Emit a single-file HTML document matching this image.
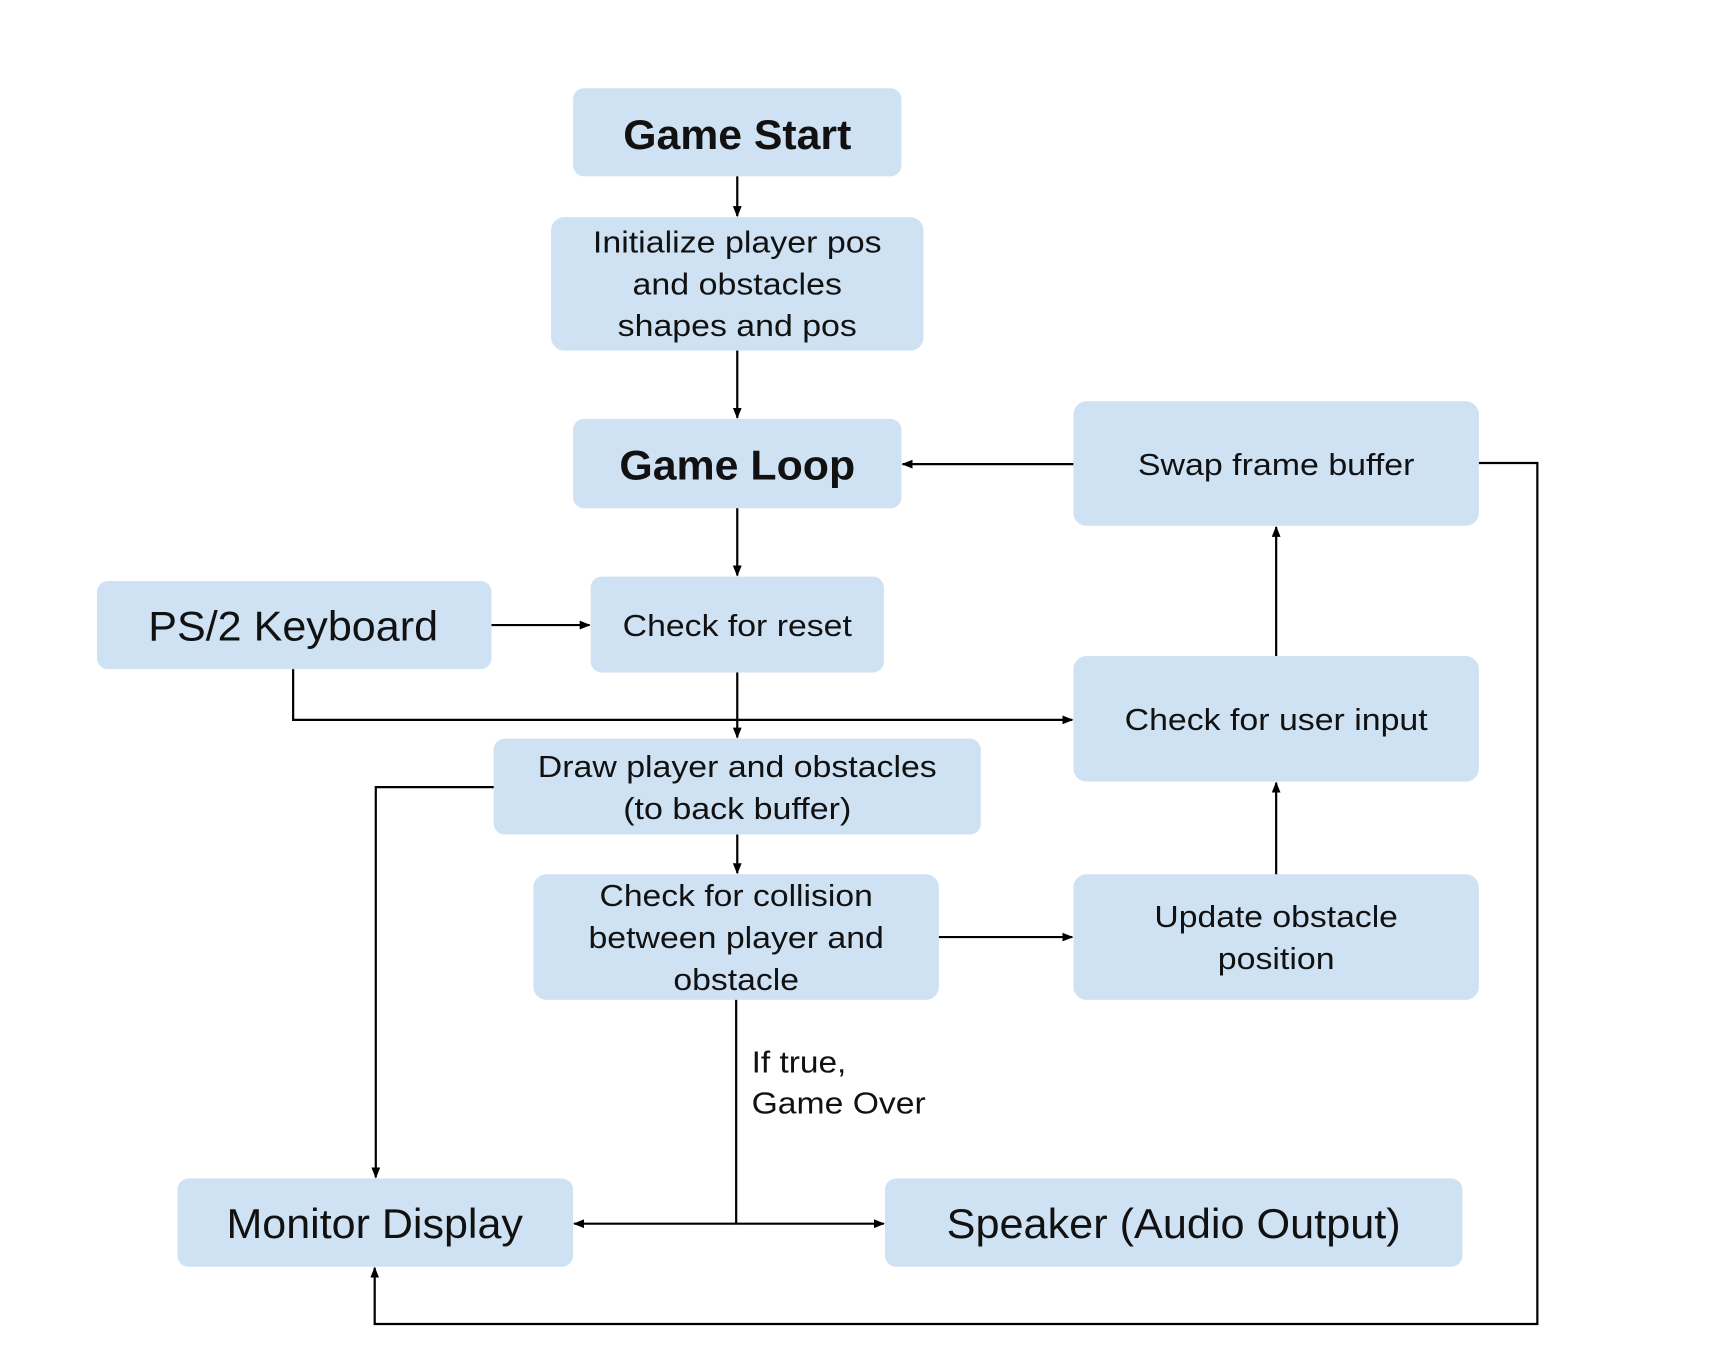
<!DOCTYPE html>
<html><head><meta charset="utf-8"><style>
html,body{margin:0;padding:0;background:#fff;width:1728px;height:1356px;overflow:hidden}
svg{display:block}
text{font-family:"Liberation Sans",Arial,sans-serif;fill:#111}
</style></head><body>
<svg width="1728" height="1356" viewBox="0 0 1568 1230" preserveAspectRatio="none" xmlns="http://www.w3.org/2000/svg">
<defs><marker id="a" markerWidth="10" markerHeight="8" refX="9" refY="4" orient="auto" markerUnits="userSpaceOnUse"><path d="M0,0 L10,4 L0,8 z" fill="#000"/></marker></defs>
<g fill="#cfe2f3">
<rect x="520" y="80" width="298" height="80" rx="10"/>
<rect x="500" y="197" width="338" height="121" rx="12"/>
<rect x="520" y="380" width="298" height="81" rx="10"/>
<rect x="974" y="364" width="368" height="113" rx="12"/>
<rect x="88" y="527" width="358" height="80" rx="10"/>
<rect x="536" y="523" width="266" height="87" rx="10"/>
<rect x="974" y="595" width="368" height="114" rx="12"/>
<rect x="448" y="670" width="442" height="87" rx="10"/>
<rect x="484" y="793" width="368" height="114" rx="12"/>
<rect x="974" y="793" width="368" height="114" rx="12"/>
<rect x="161" y="1069" width="359" height="80" rx="10"/>
<rect x="803" y="1069" width="524" height="80" rx="10"/>
</g>
<g stroke="#000" stroke-width="2" fill="none">
<path d="M669,160 V196" marker-end="url(#a)"/>
<path d="M669,318 V379" marker-end="url(#a)"/>
<path d="M974,421 H819" marker-end="url(#a)"/>
<path d="M669,461 V522" marker-end="url(#a)"/>
<path d="M446,567 H535" marker-end="url(#a)"/>
<path d="M669,610 V669" marker-end="url(#a)"/>
<path d="M266,607 V653 H973" marker-end="url(#a)"/>
<path d="M1158,595 V478" marker-end="url(#a)"/>
<path d="M1158,793 V710" marker-end="url(#a)"/>
<path d="M852,850 H973" marker-end="url(#a)"/>
<path d="M669,757 V792" marker-end="url(#a)"/>
<path d="M448,714 H341 V1068" marker-end="url(#a)"/>
<path d="M668,907 V1110"/>
<path d="M668,1110 H521" marker-end="url(#a)"/>
<path d="M668,1110 H802" marker-end="url(#a)"/>
<path d="M1342,420 H1395 V1201 H340 V1150" marker-end="url(#a)"/>
</g>
<g text-anchor="middle" lengthAdjust="spacingAndGlyphs">
<text x="669" y="135" font-size="38" font-weight="bold" textLength="207" lengthAdjust="spacingAndGlyphs">Game Start</text>
<text x="669" y="229" font-size="28" textLength="262" lengthAdjust="spacingAndGlyphs">Initialize player pos</text>
<text x="669" y="267" font-size="28" textLength="190" lengthAdjust="spacingAndGlyphs">and obstacles</text>
<text x="669" y="305" font-size="28" textLength="217" lengthAdjust="spacingAndGlyphs">shapes and pos</text>
<text x="669" y="435" font-size="38" font-weight="bold" textLength="214" lengthAdjust="spacingAndGlyphs">Game Loop</text>
<text x="1158" y="431" font-size="28" textLength="251" lengthAdjust="spacingAndGlyphs">Swap frame buffer</text>
<text x="266" y="581" font-size="38" textLength="263" lengthAdjust="spacingAndGlyphs">PS/2 Keyboard</text>
<text x="669" y="577" font-size="28" textLength="208" lengthAdjust="spacingAndGlyphs">Check for reset</text>
<text x="1158" y="662" font-size="28" textLength="275" lengthAdjust="spacingAndGlyphs">Check for user input</text>
<text x="669" y="705" font-size="28" textLength="362" lengthAdjust="spacingAndGlyphs">Draw player and obstacles</text>
<text x="669" y="743" font-size="28" textLength="207" lengthAdjust="spacingAndGlyphs">(to back buffer)</text>
<text x="668" y="822" font-size="28" textLength="248" lengthAdjust="spacingAndGlyphs">Check for collision</text>
<text x="668" y="860" font-size="28" textLength="268" lengthAdjust="spacingAndGlyphs">between player and</text>
<text x="668" y="898" font-size="28" textLength="114" lengthAdjust="spacingAndGlyphs">obstacle</text>
<text x="1158" y="841" font-size="28" textLength="221" lengthAdjust="spacingAndGlyphs">Update obstacle</text>
<text x="1158" y="879" font-size="28" textLength="106" lengthAdjust="spacingAndGlyphs">position</text>
<text x="340" y="1123" font-size="38" textLength="269" lengthAdjust="spacingAndGlyphs">Monitor Display</text>
<text x="1065" y="1123" font-size="38" textLength="412" lengthAdjust="spacingAndGlyphs">Speaker (Audio Output)</text>
</g>
<text x="682" y="973" font-size="28" textLength="86" lengthAdjust="spacingAndGlyphs">If true,</text>
<text x="682" y="1010" font-size="28" textLength="158" lengthAdjust="spacingAndGlyphs">Game Over</text>
</svg>
</body></html>
